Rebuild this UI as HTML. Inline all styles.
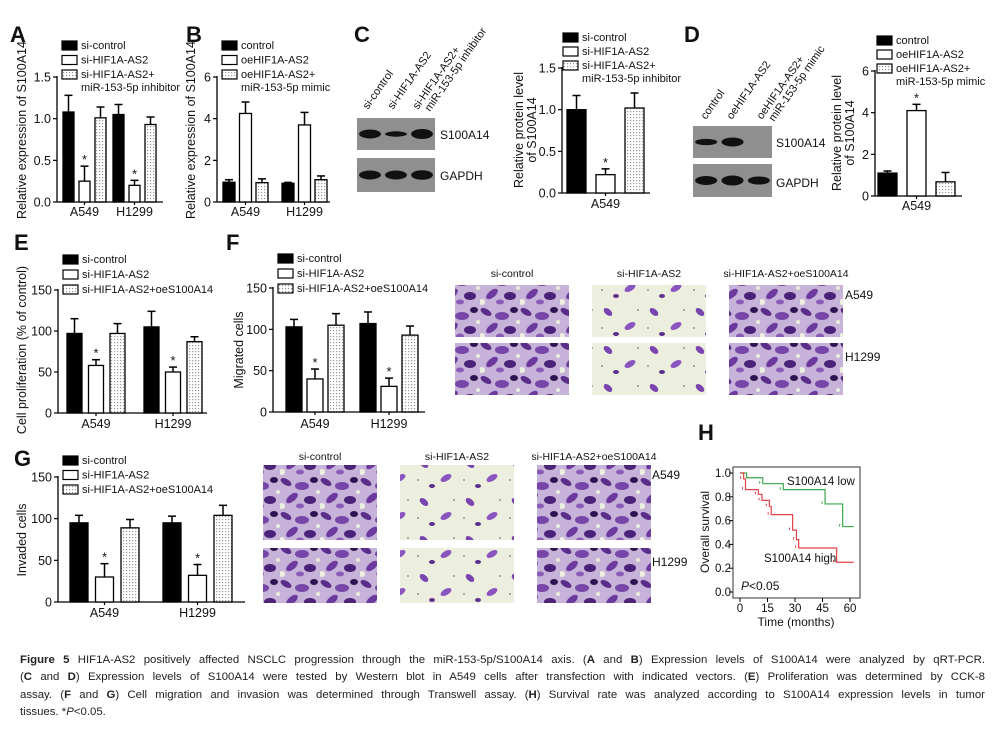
<!DOCTYPE html>
<html><head><meta charset="utf-8">
<style>
html,body{margin:0;padding:0;background:#fff;}
body{width:997px;height:730px;position:relative;overflow:hidden;font-family:"Liberation Sans",Arial,sans-serif;}
#fig{position:absolute;left:0;top:0;}
#cap{position:absolute;left:20px;top:652px;width:965px;font-size:11.4px;line-height:17.4px;color:#222;}
#cap div{text-align:justify;text-align-last:justify;white-space:nowrap;}
#cap div.last{text-align-last:left;}
</style></head>
<body>
<svg id="fig" width="997" height="650" xmlns="http://www.w3.org/2000/svg" font-family="Liberation Sans, Arial, sans-serif">
<defs>
<pattern id="dots" width="3" height="3" patternUnits="userSpaceOnUse"><rect width="3" height="3" fill="#fff"/><rect x="0" y="0" width="1.2" height="1.2" fill="#999"/></pattern>
<pattern id="dense" width="40" height="34" patternUnits="userSpaceOnUse">
<rect width="40" height="34" fill="#c7b3da"/>
<ellipse cx="6" cy="6" rx="6" ry="3" fill="#5a2d8a" transform="rotate(30 6 6)"/>
<ellipse cx="22" cy="10" rx="7" ry="4" fill="#7846a8"/>
<ellipse cx="34" cy="4" rx="4" ry="3" fill="#2c1450"/>
<ellipse cx="12" cy="22" rx="7" ry="3.5" fill="#6c3a9e" transform="rotate(-40 12 22)"/>
<ellipse cx="30" cy="24" rx="6" ry="4" fill="#4a2378"/>
<ellipse cx="20" cy="30" rx="4" ry="2.5" fill="#8a5cb8"/>
<circle cx="38" cy="16" r="2" fill="#e8ecd8"/>
<circle cx="2" cy="30" r="3" fill="#eef0e2"/>
</pattern>
<pattern id="sparse" width="46" height="38" patternUnits="userSpaceOnUse">
<rect width="46" height="38" fill="#eceede"/>
<ellipse cx="10" cy="8" rx="5" ry="3" fill="#7a44ae" transform="rotate(40 10 8)"/>
<ellipse cx="32" cy="22" rx="6" ry="3" fill="#8b55c0" transform="rotate(-30 32 22)"/>
<ellipse cx="18" cy="30" rx="3" ry="2" fill="#5b2f8c"/>
<circle cx="40" cy="6" r="1" fill="#9a8aa8"/>
<circle cx="4" cy="24" r="1" fill="#9a8aa8"/>
</pattern>
</defs>
</svg>
<div id="cap">
<div><b>Figure 5</b> HIF1A-AS2 positively affected NSCLC progression through the miR-153-5p/S100A14 axis. (<b>A</b> and <b>B</b>) Expression levels of S100A14 were analyzed by qRT-PCR.</div>
<div>(<b>C</b> and <b>D</b>) Expression levels of S100A14 were tested by Western blot in A549 cells after transfection with indicated vectors. (<b>E</b>) Proliferation was determined by CCK-8</div>
<div>assay. (<b>F</b> and <b>G</b>) Cell migration and invasion was determined through Transwell assay. (<b>H</b>) Survival rate was analyzed according to S100A14 expression levels in tumor</div>
<div class="last">tissues. *<i>P</i>&lt;0.05.</div>
</div>
<script>
// ---- data ----
const catsAB = ['A549', 'H1299'];
const catsCD = ['A549'];
const ticks15 = [0, 0.5, 1, 1.5];
const tickLabels15 = ['0.0', '0.5', '1.0', '1.5'];
const ticks6 = [0, 2, 4, 6];
const ticks150 = [0, 50, 100, 150];
const aCtrl = [1.08, 1.05], aCtrlErr = [0.2, 0.12];
const aSi = [0.25, 0.2], aSiErr = [0.18, 0.06];
const aInh = [1.01, 0.93], aInhErr = [0.13, 0.09];
const bCtrl = [0.95, 0.9], bCtrlErr = [0.12, 0.04];
const bOe = [4.25, 3.7], bOeErr = [0.55, 0.6];
const bMim = [0.93, 1.07], bMimErr = [0.18, 0.18];
const cCtrl = [1.0], cCtrlErr = [0.17];
const cSi = [0.22], cSiErr = [0.07];
const cInh = [1.02], cInhErr = [0.18];
const dCtrl = [1.1], dCtrlErr = [0.1];
const dOe = [4.1], dOeErr = [0.3];
const dMim = [0.68], dMimErr = [0.45];
const eCtrl = [97, 105], eCtrlErr = [18, 19];
const eSi = [58, 50], eSiErr = [7, 6];
const eOe = [97, 87], eOeErr = [12, 6];
const fCtrl = [103, 107], fCtrlErr = [9, 14];
const fSi = [40, 31], fSiErr = [12, 10];
const fOe = [105, 93], fOeErr = [14, 11];
const gCtrl = [95, 95], gCtrlErr = [9, 8];
const gSi = [30, 32], gSiErr = [16, 13];
const gOe = [89, 104], gOeErr = [10, 12];
// survival (months, survival)
const lowT = [0, 3.6, 12.4, 23.6, 46.4, 56, 62];
const lowS = [1.0, 0.96, 0.91, 0.86, 0.74, 0.55, 0.55];
const highT = [0, 2, 3, 10, 12, 16, 17, 28.7, 30.8, 32, 52.7, 62];
const highS = [1.0, 0.95, 0.86, 0.82, 0.77, 0.72, 0.65, 0.52, 0.44, 0.37, 0.25, 0.25];
const survTicks = [0, 15, 30, 45, 60];
const survYTicks = [0, 0.2, 0.4, 0.6, 0.8, 1.0];
const survYLabels = ['0.0', '0.2', '0.4', '0.6', '0.8', '1.0'];

const NS = 'http://www.w3.org/2000/svg';
const svg = document.getElementById('fig');
function mk(tag, attrs, name, parent) {
  const e = document.createElementNS(NS, tag);
  for (const k in attrs) e.setAttribute(k, attrs[k]);
  
  
  (parent || svg).appendChild(e);
  return e;
}
function txt(x, y, s, size, name, extra) {
  const a = Object.assign({x: x, y: y, 'font-size': size, fill: '#111'}, extra || {});
  const t = mk('text', a, name);
  t.textContent = s;
  return t;
}
function letter(x, y, s) { txt(x, y, s, 22, 'panel-label-' + s.toLowerCase(), {'font-weight': 'bold'}); }
function legend(x, y, items, step) {
  items.forEach((it, i) => {
    mk('rect', {x: x, y: y + i * step - 8, width: 15, height: 9, fill: it.fill, stroke: '#000', 'stroke-width': 1.2}, 'legend-swatch');
    it.lines.forEach((l, j) => txt(x + 19, y + i * step + j * 13, l, 11, 'legend-entry'));
  });
}
function ytitle(x, y, lines, size) {
  lines.forEach((l, j) => txt(x + j * 13, y, l, size, 'y-axis-title', {'text-anchor': 'middle', transform: 'rotate(-90 ' + (x + j * 13) + ' ' + y + ')'}));
}
function barChart(c) {
  const ys = v => c.y0 - v / c.ymax * (c.y0 - c.ytop);
  mk('line', {x1: c.ax, y1: c.ytop - 1, x2: c.ax, y2: c.y0, stroke: '#000', 'stroke-width': 1.3}, 'y-axis');
  mk('line', {x1: c.ax, y1: c.y0, x2: c.end, y2: c.y0, stroke: '#000', 'stroke-width': 1.3}, 'x-axis');
  c.ticks.forEach((t, i) => {
    mk('line', {x1: c.ax - 4, y1: ys(t), x2: c.ax, y2: ys(t), stroke: '#000', 'stroke-width': 1.2}, 'y-tick');
    txt(c.ax - 6, ys(t) + 4.5, c.tickLabels[i], 12.5, 'y-tick-label', {'text-anchor': 'end'});
  });
  c.cats.forEach((cat, gi) => {
    const cx = c.first + gi * c.gstep + c.inner + c.bw / 2;
    mk('line', {x1: cx, y1: c.y0, x2: cx, y2: c.y0 + 3, stroke: '#000', 'stroke-width': 1.2}, 'x-tick');
    txt(cx, c.catY, cat, 12.5, 'x-tick-label', {'text-anchor': 'middle'});
  });
  c.series.forEach((s, si) => {
    s.vals.forEach((v, gi) => {
      const x = c.first + gi * c.gstep + si * c.inner;
      const yt = ys(v);
      const ye = ys(v + s.errs[gi]);
      const mx = x + c.bw / 2;
      mk('line', {x1: mx, y1: yt, x2: mx, y2: ye, stroke: '#000', 'stroke-width': 1.5}, 'error-bar');
      mk('line', {x1: mx - 4, y1: ye, x2: mx + 4, y2: ye, stroke: '#000', 'stroke-width': 1.5}, 'error-cap');
      mk('rect', {x: x, y: yt, width: c.bw, height: c.y0 - yt, fill: s.fill, stroke: '#000', 'stroke-width': 1.3}, 'bar-' + s.name + '-' + c.cats[gi].toLowerCase());
      if (s.star) txt(mx, ye - 2, '*', 13, 'significance-star', {'text-anchor': 'middle'});
    });
  });
}
const BLK = '#000', WHT = '#fff', DOT = 'url(#dots)';
const siItems3 = [{fill: BLK, lines: ['si-control']}, {fill: WHT, lines: ['si-HIF1A-AS2']}, {fill: DOT, lines: ['si-HIF1A-AS2+oeS100A14']}];

// A
letter(10, 42, 'A');
legend(62, 49, [{fill: BLK, lines: ['si-control']}, {fill: WHT, lines: ['si-HIF1A-AS2']}, {fill: DOT, lines: ['si-HIF1A-AS2+', 'miR-153-5p inhibitor']}], 14.5);
ytitle(26, 130, ['Relative expression of S100A14'], 12.5);
barChart({ax: 57, y0: 202, ytop: 77, ymax: 1.5, ticks: ticks15, tickLabels: tickLabels15, first: 63, bw: 11, inner: 16, gstep: 50, end: 163, cats: catsAB, catY: 216,
  series: [{name: 'si-control', vals: aCtrl, errs: aCtrlErr, fill: BLK}, {name: 'si-hif1a-as2', vals: aSi, errs: aSiErr, fill: WHT, star: true}, {name: 'inhibitor', vals: aInh, errs: aInhErr, fill: DOT}]});
// B
letter(186, 42, 'B');
legend(222, 49, [{fill: BLK, lines: ['control']}, {fill: WHT, lines: ['oeHIF1A-AS2']}, {fill: DOT, lines: ['oeHIF1A-AS2+', 'miR-153-5p mimic']}], 14.5);
ytitle(195, 130, ['Relative expression of S100A14'], 12.5);
barChart({ax: 217, y0: 202, ytop: 77, ymax: 6, ticks: ticks6, tickLabels: ['0', '2', '4', '6'], first: 223, bw: 12, inner: 16.5, gstep: 59, end: 330, cats: catsAB, catY: 216,
  series: [{name: 'control', vals: bCtrl, errs: bCtrlErr, fill: BLK}, {name: 'oehif1a-as2', vals: bOe, errs: bOeErr, fill: WHT}, {name: 'mimic', vals: bMim, errs: bMimErr, fill: DOT}]});
// C
letter(354, 42, 'C');
['si-control', 'si-HIF1A-AS2', 'si-HIF1A-AS2+', 'miR-153-5p inhibitor'].forEach((l, i) => {
  const xs = [368, 393, 418, 430][i], yv = [110, 110, 110, 112][i];
  txt(xs, yv, l, 11, 'lane-label', {transform: 'rotate(-55 ' + xs + ' ' + yv + ')'});
});
function blot(x, y, w, h, bands, name) {
  mk('rect', {x: x, y: y, width: w, height: h, fill: '#8f8f8f'}, name + '-membrane');
  bands.forEach((b, i) => {
    if (b > 0) mk('ellipse', {cx: x + w * (i + 0.5) / bands.length, cy: y + h / 2, rx: w / bands.length * 0.42, ry: 4.5 * b, fill: '#111'}, name + '-band');
  });
}
blot(357, 118, 78, 32, [1, 0.6, 1.1], 's100a14-blot-c');
blot(357, 158, 78, 34, [1, 1, 1.05], 'gapdh-blot-c');
txt(440, 139, 'S100A14', 12, 'blot-label');
txt(440, 180, 'GAPDH', 12, 'blot-label');
legend(563, 41, [{fill: BLK, lines: ['si-control']}, {fill: WHT, lines: ['si-HIF1A-AS2']}, {fill: DOT, lines: ['si-HIF1A-AS2+', 'miR-153-5p inhibitor']}], 14);
ytitle(523, 130, ['Relative protein level', 'of S100A14'], 12.5);
barChart({ax: 562, y0: 193, ytop: 68, ymax: 1.5, ticks: ticks15, tickLabels: tickLabels15, first: 567, bw: 19, inner: 29, gstep: 0, end: 650, cats: catsCD, catY: 208,
  series: [{name: 'si-control', vals: cCtrl, errs: cCtrlErr, fill: BLK}, {name: 'si-hif1a-as2', vals: cSi, errs: cSiErr, fill: WHT, star: true}, {name: 'inhibitor', vals: cInh, errs: cInhErr, fill: DOT}]});
// D
letter(684, 42, 'D');
['control', 'oeHIF1A-AS2', 'oeHIF1A-AS2+', 'miR-153-5p mimic'].forEach((l, i) => {
  const xs = [706, 732, 762, 774][i], yv = [120, 120, 120, 122][i];
  txt(xs, yv, l, 11, 'lane-label', {transform: 'rotate(-55 ' + xs + ' ' + yv + ')'});
});
blot(693, 126, 79, 32, [0.7, 1.0, 0], 's100a14-blot-d');
blot(693, 164, 79, 33, [1, 1.1, 0.9], 'gapdh-blot-d');
txt(776, 147, 'S100A14', 12, 'blot-label');
txt(776, 187, 'GAPDH', 12, 'blot-label');
legend(877, 44, [{fill: BLK, lines: ['control']}, {fill: WHT, lines: ['oeHIF1A-AS2']}, {fill: DOT, lines: ['oeHIF1A-AS2+', 'miR-153-5p mimic']}], 14);
ytitle(841, 133, ['Relative protein level', 'of S100A14'], 12.5);
barChart({ax: 875, y0: 196, ytop: 71, ymax: 6, ticks: ticks6, tickLabels: ['0', '2', '4', '6'], first: 878, bw: 19, inner: 29, gstep: 0, end: 962, cats: catsCD, catY: 210,
  series: [{name: 'control', vals: dCtrl, errs: dCtrlErr, fill: BLK}, {name: 'oehif1a-as2', vals: dOe, errs: dOeErr, fill: WHT, star: true}, {name: 'mimic', vals: dMim, errs: dMimErr, fill: DOT}]});
// E
letter(14, 250, 'E');
legend(63, 263, siItems3, 15);
ytitle(26, 350, ['Cell proliferation (% of control)'], 12.5);
barChart({ax: 58, y0: 413, ytop: 290, ymax: 150, ticks: ticks150, tickLabels: ['0', '50', '100', '150'], first: 67, bw: 15, inner: 21.5, gstep: 77, end: 207, cats: catsAB, catY: 428,
  series: [{name: 'si-control', vals: eCtrl, errs: eCtrlErr, fill: BLK}, {name: 'si-hif1a-as2', vals: eSi, errs: eSiErr, fill: WHT, star: true}, {name: 'oes100a14', vals: eOe, errs: eOeErr, fill: DOT}]});
// F
letter(226, 250, 'F');
legend(278, 262, siItems3, 15);
ytitle(243, 350, ['Migrated cells'], 12.5);
barChart({ax: 273, y0: 412, ytop: 288, ymax: 150, ticks: ticks150, tickLabels: ['0', '50', '100', '150'], first: 286, bw: 16, inner: 21, gstep: 74, end: 425, cats: catsAB, catY: 428,
  series: [{name: 'si-control', vals: fCtrl, errs: fCtrlErr, fill: BLK}, {name: 'si-hif1a-as2', vals: fSi, errs: fSiErr, fill: WHT, star: true}, {name: 'oes100a14', vals: fOe, errs: fOeErr, fill: DOT}]});
// micrographs
const micCols = ['si-control', 'si-HIF1A-AS2', 'si-HIF1A-AS2+oeS100A14'];
const micFill = ['url(#dense)', 'url(#sparse)', 'url(#dense)'];
function micro(x0, y0, h1, h2, gap, lblY, cellX, name) {
  micCols.forEach((c, i) => {
    const x = x0 + i * 137;
    txt(x + 57, lblY, c, 10.5, 'micrograph-column-label', {'text-anchor': 'middle'});
    mk('rect', {x: x, y: y0, width: 114, height: h1, fill: micFill[i]}, name + '-micrograph');
    mk('rect', {x: x, y: y0 + h1 + gap, width: 114, height: h2, fill: micFill[i]}, name + '-micrograph');
  });
  txt(cellX, y0 + 14, 'A549', 12, 'cell-line-label');
  txt(cellX, y0 + h1 + gap + 18, 'H1299', 12, 'cell-line-label');
}
micro(455, 285, 52, 52, 6, 277, 845, 'migration');
micro(263, 465, 75, 55, 8, 460, 652, 'invasion');
// G
letter(14, 466, 'G');
legend(63, 464, siItems3, 14.5);
ytitle(26, 540, ['Invaded cells'], 12.5);
barChart({ax: 58, y0: 602, ytop: 477, ymax: 150, ticks: ticks150, tickLabels: ['0', '50', '100', '150'], first: 70, bw: 18, inner: 25.5, gstep: 93, end: 245, cats: catsAB, catY: 617,
  series: [{name: 'si-control', vals: gCtrl, errs: gCtrlErr, fill: BLK}, {name: 'si-hif1a-as2', vals: gSi, errs: gSiErr, fill: WHT, star: true}, {name: 'oes100a14', vals: gOe, errs: gOeErr, fill: DOT}]});
// H
letter(698, 440, 'H');
const hx = t => 740 + t / 60 * 110;
const hy = s => 592 - s * 119;
mk('rect', {x: 733, y: 467, width: 127, height: 131, fill: 'none', stroke: '#555', 'stroke-width': 1.2}, 'survival-plot-frame');
survYTicks.forEach((v, i) => {
  mk('line', {x1: 729, y1: hy(v), x2: 733, y2: hy(v), stroke: '#000'}, 'y-tick');
  txt(731, hy(v) + 4, survYLabels[i], 11.5, 'y-tick-label', {'text-anchor': 'end'});
});
survTicks.forEach(t => {
  mk('line', {x1: hx(t), y1: 598, x2: hx(t), y2: 602, stroke: '#000'}, 'x-tick');
  txt(hx(t), 612, String(t), 11.5, 'x-tick-label', {'text-anchor': 'middle'});
});
txt(796, 626, 'Time (months)', 12, 'x-axis-title', {'text-anchor': 'middle'});
ytitle(709, 532, ['Overall survival'], 12);
function km(T, S, col, name) {
  let d = 'M' + hx(T[0]) + ' ' + hy(S[0]);
  for (let i = 1; i < T.length; i++) d += ' H' + hx(T[i]) + ' V' + hy(S[i]);
  mk('path', {d: d, fill: 'none', stroke: col, 'stroke-width': 1.2}, name);
  for (let i = 1; i < T.length - 1; i++) mk('line', {x1: hx(T[i]) - 3, y1: hy(S[i]), x2: hx(T[i]) - 3, y2: hy(S[i]) - 2.5, stroke: col}, name + '-censor');
}
km(lowT, lowS, '#3aa64a', 'survival-curve-low');
km(highT, highS, '#e0434a', 'survival-curve-high');
txt(787, 485, 'S100A14 low', 11.5, 'curve-label-low');
txt(764, 562, 'S100A14 high', 11.5, 'curve-label-high');
const pt = txt(741, 590, '', 12, 'p-value-label');
const pi = mk('tspan', {'font-style': 'italic'}, 'p-symbol', pt); pi.textContent = 'P';
const pr = mk('tspan', {}, 'p-value', pt); pr.textContent = '<0.05';
</script>
</body></html>
